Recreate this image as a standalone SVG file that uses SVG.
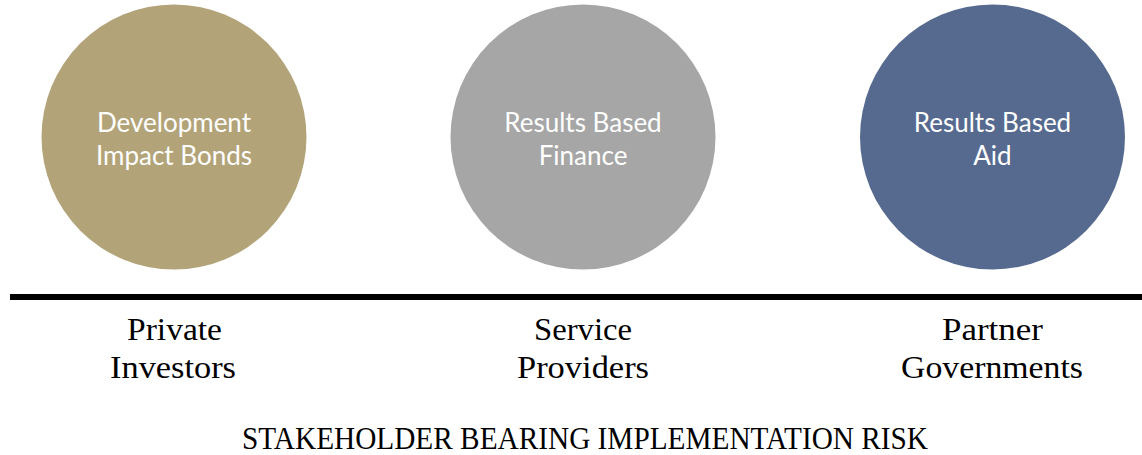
<svg xmlns="http://www.w3.org/2000/svg" width="1142" height="455" viewBox="0 0 1142 455">
<style>
.in{font-family:"Lato","Open Sans","DejaVu Sans",sans-serif;font-size:26px;fill:#ffffff;text-anchor:middle}
.lb{font-family:"Liberation Serif","DejaVu Serif",serif;font-size:32px;fill:#000000;text-anchor:middle}
</style>
<rect width="1142" height="455" fill="#ffffff"/>
<g id="node-dib">
<circle cx="174" cy="137" r="132.5" fill="#B2A379"/>
<text class="in" x="174" y="132">Development</text>
<text class="in" x="174" y="165">Impact Bonds</text>
</g>
<g id="node-rbf">
<circle cx="583" cy="137" r="132.5" fill="#A6A6A6"/>
<text class="in" x="583" y="132">Results Based</text>
<text class="in" x="583" y="165">Finance</text>
</g>
<g id="node-rba">
<circle cx="992.5" cy="137" r="132.5" fill="#566A8F"/>
<text class="in" x="992.5" y="132">Results Based</text>
<text class="in" x="992.5" y="165">Aid</text>
</g>
<g id="connectors">
<line x1="10" y1="297" x2="1142" y2="297" stroke="#000000" stroke-width="6"/>
</g>
<g id="labels">
<text class="lb" x="174.5" y="340" textLength="95" lengthAdjust="spacingAndGlyphs">Private</text>
<text class="lb" x="173" y="378" textLength="126" lengthAdjust="spacingAndGlyphs">Investors</text>
<text class="lb" x="583" y="340" textLength="98" lengthAdjust="spacingAndGlyphs">Service</text>
<text class="lb" x="583" y="378" textLength="132" lengthAdjust="spacingAndGlyphs">Providers</text>
<text class="lb" x="992.5" y="340" textLength="101" lengthAdjust="spacingAndGlyphs">Partner</text>
<text class="lb" x="992" y="378" textLength="182" lengthAdjust="spacingAndGlyphs">Governments</text>
<text class="lb" x="585" y="449" font-size="31" textLength="686" lengthAdjust="spacingAndGlyphs">STAKEHOLDER BEARING IMPLEMENTATION RISK</text>
</g>
</svg>
